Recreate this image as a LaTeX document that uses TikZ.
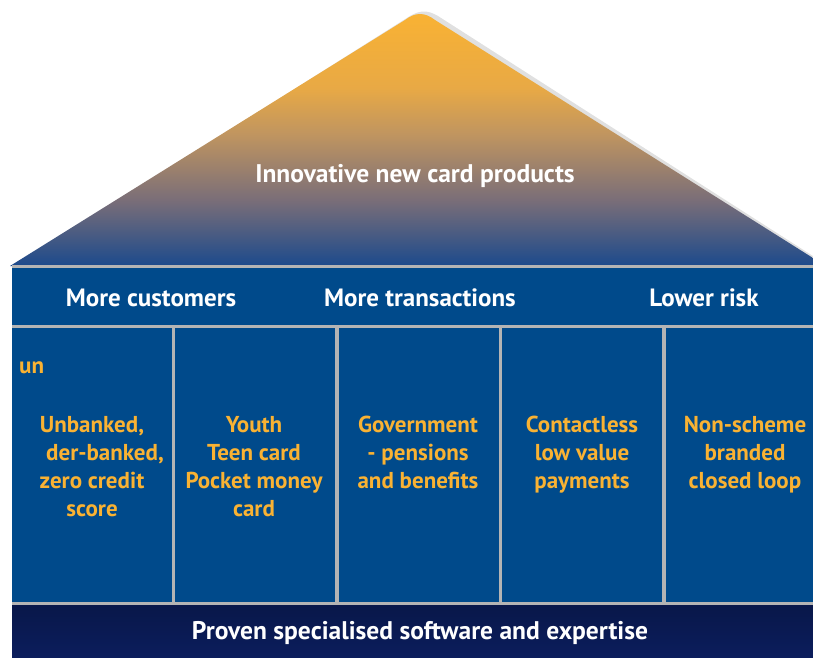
\documentclass[tikz,border=0pt]{standalone}
\usepackage{fontspec}
\setmainfont{PT Sans}
\definecolor{roofor}{HTML}{F9B233}
\definecolor{roofbl}{HTML}{1C4A8C}
\definecolor{barblue}{HTML}{004A8B}
\definecolor{basenavy}{HTML}{0B1D5C}
\definecolor{sepgray}{HTML}{B4B4B4}
\definecolor{txtor}{HTML}{F9B233}
\pgfdeclareverticalshading{roofshade}{100bp}{%
  color(0bp)=(roofbl); color(25bp)=(roofbl);
  rgb(38bp)=(0.478,0.431,0.471); rgb(51bp)=(0.753,0.584,0.376);
  rgb(60bp)=(0.910,0.663,0.271); color(75bp)=(roofor); color(100bp)=(roofor)}
\tikzset{
  headtxt/.style={text=white,font=\bfseries\fontsize{25.5}{30}\selectfont,inner sep=0pt},
  bartxt/.style={text=white,font=\bfseries\fontsize{25}{30}\selectfont,inner sep=0pt},
  coltxt/.style={text=txtor,font=\bfseries\fontsize{23}{28}\selectfont,align=center,inner sep=0pt},
  colbox/.style={fill=barblue},
}
\begin{document}
\begin{tikzpicture}[x=1pt,y=-1pt]
\useasboundingbox (0,0) rectangle (813,657);
% roof shadow
\fill[black!12] (14,266) -- (410,16) .. controls (420,10) and (428,10) .. (438,16) -- (816,258) -- (813,266) -- cycle;
% roof
\shade[shading=roofshade] (10,266) -- (405,20) .. controls (415,12) and (425,12) .. (435,20) -- (813,258) -- (813,266) -- cycle;
% frame gray
\fill[sepgray] (12,265) rectangle (813,605);
% bar
\fill[barblue] (12,268) rectangle (813,325);
% columns
\fill[colbox] (12,328) rectangle (172,602);
\fill[colbox] (175,328) rectangle (335,602);
\fill[colbox] (339,328) rectangle (499,602);
\fill[colbox] (502,328) rectangle (662,602);
\fill[colbox] (666,328) rectangle (813,602);
% base
\shade[top color=basenavy!80!black,bottom color=basenavy] (12,605) rectangle (813,657);
% texts
\node[headtxt] (roof) at (415,176) {Innovative new card products};
\node[bartxt] (cust) at (151,298) {More customers};
\node[bartxt] (trans) at (420,298) {More transactions};
\node[bartxt] (risk) at (704,298) {Lower risk};
\node[coltxt,anchor=west] (un) at (19,368) {un};
\node[coltxt,anchor=north] (c1) at (92,416) {Unbanked,\\\hspace*{26pt}der-banked,\\zero credit\\score};
\node[coltxt,anchor=north] (c2) at (254,416) {Youth\\Teen card\\Pocket money\\card};
\node[coltxt,anchor=north] (c3) at (418,416) {Government\\- pensions\\and benefits};
\node[coltxt,anchor=north] (c4) at (582,416) {Contactless\\low value\\payments};
\node[coltxt,anchor=north] (c5) at (745,416) {Non-scheme\\branded\\closed loop};
\node[headtxt] (base) at (420,633) {Proven specialised software and expertise};
\end{tikzpicture}
\end{document}
